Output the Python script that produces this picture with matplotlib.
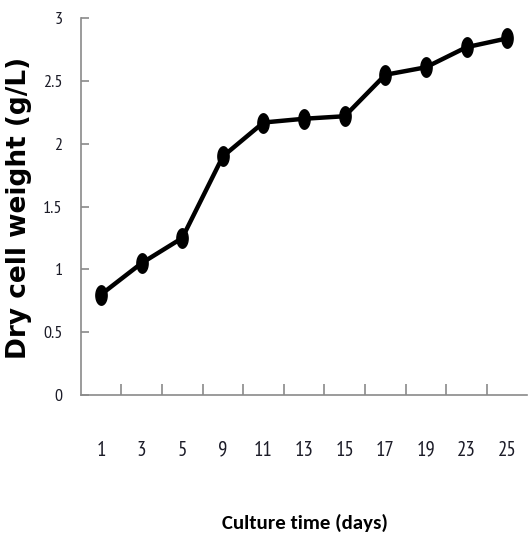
import numpy as np
import matplotlib
matplotlib.use("Agg")
import matplotlib.pyplot as plt
from matplotlib.path import Path
from matplotlib.ticker import FixedLocator, NullFormatter

# Culture time (days) and measured dry cell weight (g/L)
days = ["1", "3", "5", "9", "11", "13", "15", "17", "19", "23", "25"]
dry_weight = [0.80, 1.05, 1.25, 1.90, 2.17, 2.20, 2.22, 2.55, 2.61, 2.77, 2.84]
y_ticks = [0, 0.5, 1, 1.5, 2, 2.5, 3]
y_tick_labels = ["0", "0.5", "1", "1.5", "2", "2.5", "3"]

narrow = ["PT Sans Narrow", "DejaVu Sans"]
label_font = ["Carlito", "DejaVu Sans"]
grey = "#8a8a8a"
ink = "#1c1c28"

fig = plt.figure(figsize=(5.28, 5.43), dpi=100)
ax = fig.add_axes([0.1528, 0.2726, 0.8462, 0.6937])

# tall oval marker
t = np.linspace(0, 2 * np.pi, 60)
oval = Path(np.column_stack([0.29 * np.cos(t), 0.5 * np.sin(t)]), closed=True)

x = np.arange(len(days))
ax.plot(x, dry_weight, color="black", linewidth=3.2, marker=oval,
        markersize=14, markerfacecolor="black", markeredgecolor="black",
        solid_joinstyle="round")

ax.set_xlim(-0.5, len(days) - 0.5)
ax.set_ylim(0, 3)

for side in ("top", "right"):
    ax.spines[side].set_visible(False)
for side in ("left", "bottom"):
    ax.spines[side].set_color(grey)
    ax.spines[side].set_linewidth(1.2)

ax.set_yticks(y_ticks)
ax.set_yticklabels(y_tick_labels, family=narrow, fontsize=13, color=ink)
ax.tick_params(axis="y", direction="in", length=6, width=1.2, color=grey, pad=13)

ax.set_xticks(x)
ax.set_xticklabels(days, family=narrow, fontsize=15, color=ink)
ax.tick_params(axis="x", which="major", length=0, pad=33)
ax.xaxis.set_minor_locator(FixedLocator(np.arange(0.5, len(days) - 1, 1.0)))
ax.xaxis.set_minor_formatter(NullFormatter())
ax.tick_params(axis="x", which="minor", direction="in", length=8, width=1.2, color=grey)

fig.text(19 / 528, 1 - 208 / 543, "Dry cell weight (g/L)", rotation=90,
         ha="center", va="center", fontsize=19, fontweight="bold",
         family="DejaVu Sans", color="black")
fig.text(305 / 528, 1 - 523 / 543, "Culture time (days)", ha="center", va="center",
         fontsize=15, fontweight="bold", family=label_font, color="black")

fig.savefig("out.png", dpi=100)
